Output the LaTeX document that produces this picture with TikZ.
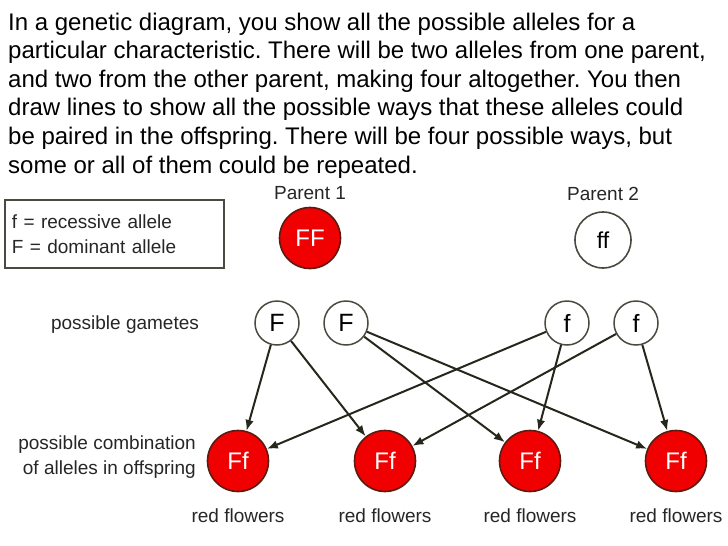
\documentclass[tikz,border=0pt]{standalone}
\usepackage{fontspec}
\setmainfont{Liberation Sans}
\usetikzlibrary{arrows.meta,positioning}
\definecolor{flowerred}{HTML}{F00000}
\definecolor{darkrim}{HTML}{5C1A10}
\definecolor{rim}{HTML}{4A4A40}
\definecolor{inkline}{HTML}{26261C}
\definecolor{textgray}{HTML}{262626}
\frenchspacing

\begin{document}
\begin{tikzpicture}[x=1pt, y=-1pt,
  node distance=4pt,
  redcell/.style={circle, draw=darkrim, line width=1.6pt, fill=flowerred, text=white,
                  minimum size=61pt, inner sep=0pt, font=\fontsize{24}{24}\selectfont},
  whitecell/.style={circle, draw=rim, line width=1.6pt, fill=white, text=black,
                    minimum size=56pt, inner sep=0pt, font=\fontsize{23}{23}\selectfont},
  gamete/.style={circle, draw=rim, line width=1.5pt, fill=white, text=black,
                 minimum size=44pt, inner sep=0pt, font=\fontsize{25}{25}\selectfont},
  smalltext/.style={text=textgray, inner sep=0pt, font=\fontsize{19}{25}\selectfont},
  legend/.style={draw=rim, line width=1.5pt, align=left, inner sep=0pt,
                 minimum width=219pt, minimum height=68pt, text width=205pt},
  arrow/.style={-{Latex[length=11pt,width=8.5pt]}, line width=2pt, draw=inkline}
]
  \useasboundingbox (0,0) rectangle (728,546);

  % explanation
  \node[anchor=north west, inner sep=0pt, align=left, text=black,
        font=\fontsize{24}{28.6}\selectfont] (intro) at (8,12.5)
    {In a genetic diagram, you show all the possible alleles for a\\
     particular characteristic. There will be two alleles from one parent,\\
     and two from the other parent, making four altogether. You then\\
     draw lines to show all the possible ways that these alleles could\\
     be paired in the offspring. There will be four possible ways, but\\
     some or all of them could be repeated.};

  % key
  \node[legend, smalltext] (key) at (114.5,234)
    {f = recessive allele\\F = dominant allele};

  % parents
  \node[redcell] (p1) at (310,238) {FF};
  \node[whitecell] (p2) at (603,240) {ff};
  \node[smalltext, above=7pt of p1] (p1lab) {Parent 1};
  \node[smalltext, above=10pt of p2] (p2lab) {Parent 2};

  % gametes
  \node[smalltext] (gamlab) at (125,325) {possible gametes};
  \node[gamete] (g1) at (277,323) {F};
  \node[gamete] (g2) at (346,323) {F};
  \node[gamete] (g3) at (567,323) {f};
  \node[gamete] (g4) at (636,323) {f};

  % offspring
  \node[smalltext, anchor=east, align=right] (offlab) at (196,457)
    {possible combination\\of alleles in offspring};
  \node[redcell] (o1) at (238,461) {Ff};
  \node[redcell] (o2) at (385,461) {Ff};
  \node[redcell] (o3) at (530,461) {Ff};
  \node[redcell] (o4) at (676,461) {Ff};
  \node[smalltext, below=16pt of o1] (r1) {red flowers};
  \node[smalltext, below=16pt of o2] (r2) {red flowers};
  \node[smalltext, below=16pt of o3] (r3) {red flowers};
  \node[smalltext, below=16pt of o4] (r4) {red flowers};

  \draw[arrow] (g1) -- (o1);
  \draw[arrow] (g1) -- (o2);
  \draw[arrow] (g2) -- (o3);
  \draw[arrow] (g2) -- (o4);
  \draw[arrow] (g3) -- (o1);
  \draw[arrow] (g3) -- (o3);
  \draw[arrow] (g4) -- (o2);
  \draw[arrow] (g4) -- (o4);
\end{tikzpicture}
\end{document}
